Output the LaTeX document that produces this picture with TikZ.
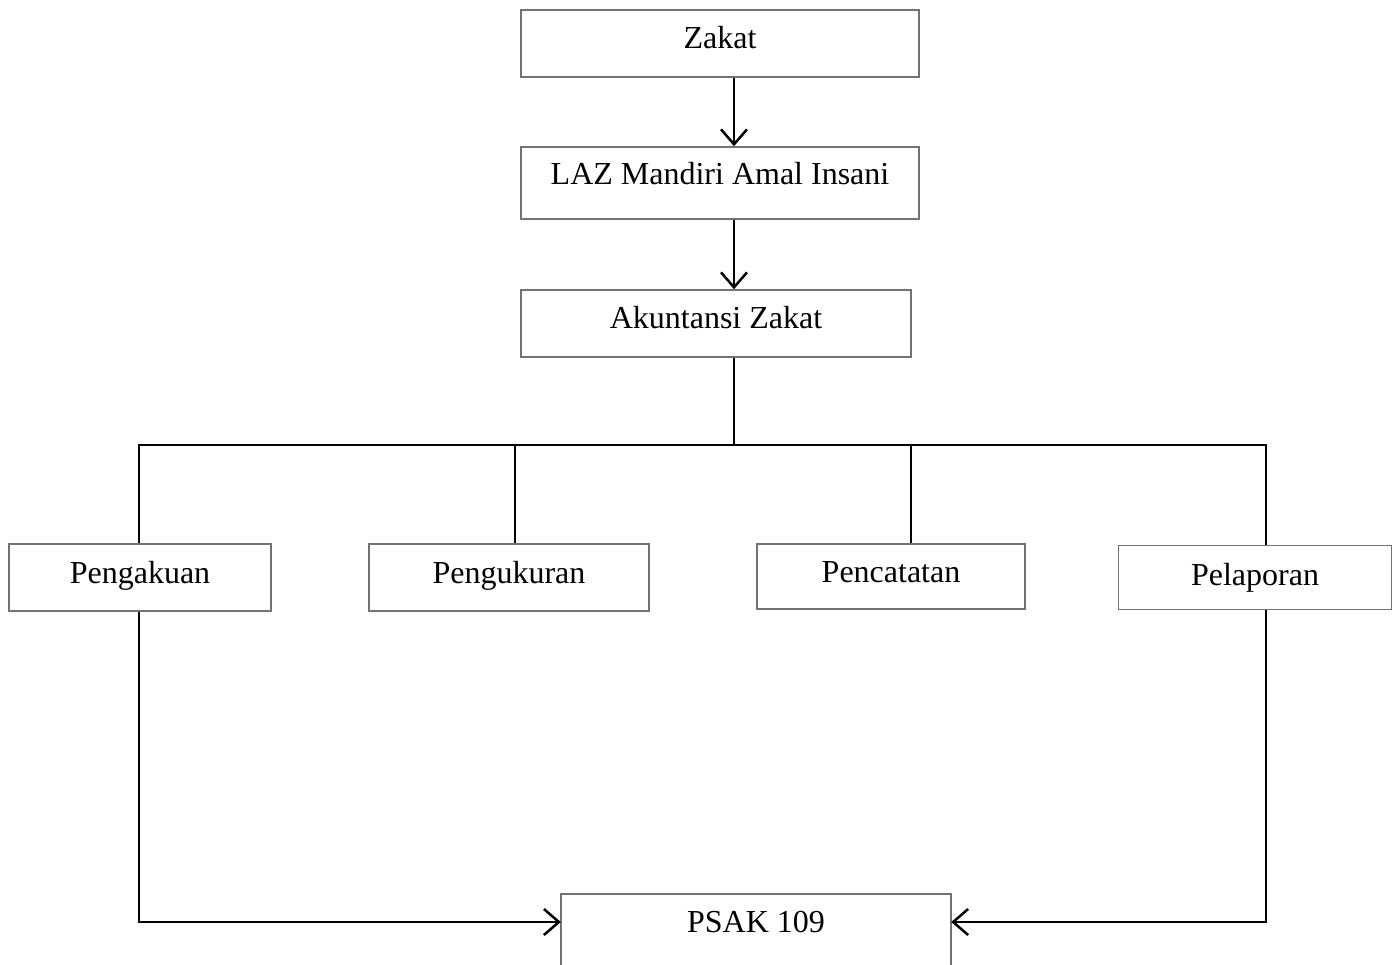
\documentclass[tikz,border=0pt]{standalone}
\usepackage{fontspec}
\setmainfont{Liberation Serif}
\usetikzlibrary{arrows.meta}
\begin{document}
\begin{tikzpicture}[x=1pt,y=-1pt,
  every node/.style={font=\fontsize{32}{38}\selectfont, inner sep=0pt},
  box/.style={draw=black!55, line width=1.5pt, fill=white, text height=22pt, text depth=11pt},
  conn/.style={draw=black, line width=2.8pt},
  arr/.style={conn, -{Straight Barb[length=15pt,width=26pt,line width=2.5pt]}}]
\useasboundingbox (0,0) rectangle (1397,965);
\fill[white] (0,0) rectangle (1397,965);
\node[box, minimum width=398, minimum height=67] (zakat) at (720,43.5) {Zakat};
\node[box, minimum width=398, minimum height=72, text depth=19pt] (laz) at (720,183) {LAZ Mandiri Amal Insani};
\node[box, minimum width=390, minimum height=67] (akun) at (716,323.5) {Akuntansi Zakat};
\node[box, minimum width=262, minimum height=67] (pengakuan) at (140,577.5) {Pengakuan};
\node[box, minimum width=280, minimum height=67] (pengukuran) at (509,577.5) {Pengukuran};
\node[box, minimum width=268, minimum height=65] (pencatatan) at (891,576.5) {Pencatatan};
\node[box, minimum width=273, minimum height=64, text depth=7pt] (pelaporan) at (1255,577.5) {Pelaporan};
\node[minimum width=390, minimum height=56] (psak) at (756,922) {PSAK 109};
\draw[draw=black!55, line width=1.5pt] ([yshift=-80pt]psak.south west) -- (psak.north west) -- (psak.north east) -- ([yshift=-80pt]psak.south east);
\coordinate (top) at (734,445);
\coordinate (j1) at (139,445);
\coordinate (j2) at (515,445);
\coordinate (j3) at (911,445);
\coordinate (j4) at (1266,445);
\draw[arr] ([xshift=14pt]zakat.south) -- ([xshift=14pt]laz.north);
\draw[arr] ([xshift=14pt]laz.south) -- ([xshift=18pt]akun.north);
\draw[conn] (top |- akun.south) -- (top);
\draw[conn] (j1 |- pengakuan.north) -- (j1) -- (j4) -- (j4 |- pelaporan.north);
\draw[conn] (j2) -- (j2 |- pengukuran.north);
\draw[conn] (j3) -- (j3 |- pencatatan.north);
\draw[arr] (j1 |- pengakuan.south) |- (psak.west);
\draw[arr] (j4 |- pelaporan.south) |- (psak.east);
\end{tikzpicture}
\end{document}
